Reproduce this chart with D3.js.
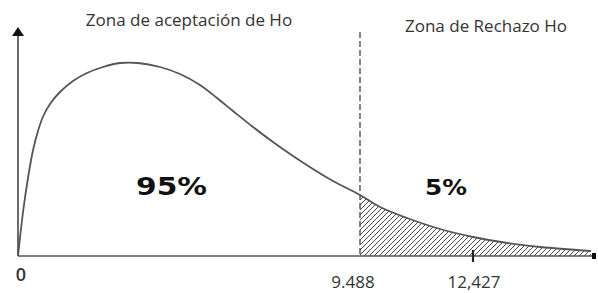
<!DOCTYPE html>
<html><head><meta charset="utf-8">
<script src="https://cdn.jsdelivr.net/npm/d3@7"></script>
<style>html,body{margin:0;padding:0;background:#fff;}svg{display:block;}</style>
</head><body>
<svg id="c" width="598" height="293"></svg>
<script>
// Curve (x = chi-square value, y = density)
const curveX = [0, 0.147, 0.286, 0.424, 0.563, 0.702, 0.888, 1.165, 1.526, 1.914, 2.358, 2.830, 3.329, 3.940, 4.494, 5.049, 5.521, 5.965, 6.520, 7.074, 7.629, 8.184, 8.739, 9.488, 10.008, 10.710, 11.569, 12.427, 13.311, 14.169, 15.469];
const curveY = [0, 0.046, 0.080, 0.107, 0.126, 0.140, 0.152, 0.164, 0.175, 0.183, 0.189, 0.193, 0.193, 0.189, 0.182, 0.171, 0.158, 0.145, 0.129, 0.114, 0.100, 0.087, 0.075, 0.061, 0.049, 0.038, 0.027, 0.019, 0.013, 0.009, 0.005];
const criticalValue = 9.488;
const tickValues = [0, 9.488, 12.427];
const tickLabels = ["0", "9.488", "12,427"];
const zoneLabels = ["Zona de aceptación de Ho", "Zona de Rechazo Ho"];
const pctLabels = ["95%", "5%"];

const svg = d3.select("#c");
const x = d3.scaleLinear().domain([0, 9.488, 12.427, 15.6]).range([18, 360, 473, 596]);
const y = d3.scaleLinear().domain([0, 0.22]).range([256, 36]);
const pts = curveX.map((v, i) => ({x: v, y: curveY[i]}));
const curve = d3.curveCatmullRom.alpha(0.5);

// hatch pattern
const defs = svg.append("defs");
const pat = defs.append("pattern").attr("id", "hatch").attr("patternUnits", "userSpaceOnUse")
  .attr("width", 5).attr("height", 5);
pat.append("path").attr("d", "M-1,1 l2,-2 M0,5 l5,-5 M4,6 l2,-2")
  .attr("stroke", "#333").attr("stroke-width", 0.9);

const tail = pts.filter(p => p.x >= criticalValue);
svg.append("path").datum(tail)
  .attr("d", d3.area().x(d => x(d.x)).y0(y(0)).y1(d => y(d.y)).curve(curve))
  .attr("fill", "url(#hatch)");

// x axis line
svg.append("line").attr("x1", x(0)).attr("x2", x(15.6)).attr("y1", y(0)).attr("y2", y(0))
  .attr("stroke", "#555").attr("stroke-width", 1.6);
// y axis with arrow
svg.append("line").attr("x1", x(0)).attr("x2", x(0)).attr("y1", y(0)).attr("y2", 34)
  .attr("stroke", "#444").attr("stroke-width", 1.6);
svg.append("path").attr("d", `M${x(0)-6},36 L${x(0)},27 L${x(0)+6},36 Z`).attr("fill", "#111");

// critical dashed line
svg.append("line").attr("x1", x(criticalValue)).attr("x2", x(criticalValue))
  .attr("y1", 32).attr("y2", y(0))
  .attr("stroke", "#444").attr("stroke-width", 1.3).attr("stroke-dasharray", "6,3");

// tick at 12.427
svg.append("line").attr("x1", x(tickValues[2])).attr("x2", x(tickValues[2]))
  .attr("y1", y(0) - 6).attr("y2", y(0) + 6).attr("stroke", "#222").attr("stroke-width", 2.2);
// end marker
svg.append("rect").attr("x", x(15.6) - 4).attr("y", y(0) - 3).attr("width", 4).attr("height", 6).attr("fill", "#111");

// curve
svg.append("path").datum(pts)
  .attr("d", d3.line().x(d => x(d.x)).y(d => y(d.y)).curve(curve))
  .attr("fill", "none").attr("stroke", "#555").attr("stroke-width", 1.8);

// tick labels
const tl = [{v: tickValues[0], t: tickLabels[0], yy: 281, dx: 3, fs: 18, fw: 600},
            {v: tickValues[1], t: tickLabels[1], yy: 288, dx: -7, fs: 17, fw: 400},
            {v: tickValues[2], t: tickLabels[2], yy: 288, dx: 1, fs: 17, fw: 400}];
svg.selectAll("text.tick").data(tl).enter().append("text")
  .attr("x", d => x(d.v) + d.dx).attr("y", d => d.yy)
  .attr("text-anchor", "middle").attr("font-family", "Open Sans, sans-serif")
  .attr("font-size", d => d.fs).attr("font-weight", d => d.fw).attr("fill", "#333").text(d => d.t);

// zone labels
svg.append("text").attr("x", 189).attr("y", 26).attr("text-anchor", "middle")
  .attr("font-family", "Open Sans, sans-serif").attr("font-size", 17).attr("fill", "#333")
  .text(zoneLabels[0]);
svg.append("text").attr("x", 486).attr("y", 32).attr("text-anchor", "middle")
  .attr("font-family", "Open Sans, sans-serif").attr("font-size", 17).attr("fill", "#333")
  .text(zoneLabels[1]);

// percentage labels
svg.append("text").attr("x", 136).attr("y", 195)
  .attr("font-family", "DejaVu Sans, sans-serif").attr("font-weight", "bold").attr("font-size", 25)
  .attr("textLength", 71).attr("lengthAdjust", "spacingAndGlyphs").attr("fill", "#111")
  .text(pctLabels[0]);
svg.append("text").attr("x", 425).attr("y", 195)
  .attr("font-family", "DejaVu Sans, sans-serif").attr("font-weight", "bold").attr("font-size", 21)
  .attr("textLength", 42).attr("lengthAdjust", "spacingAndGlyphs").attr("fill", "#111")
  .text(pctLabels[1]);
</script>
</body></html>
